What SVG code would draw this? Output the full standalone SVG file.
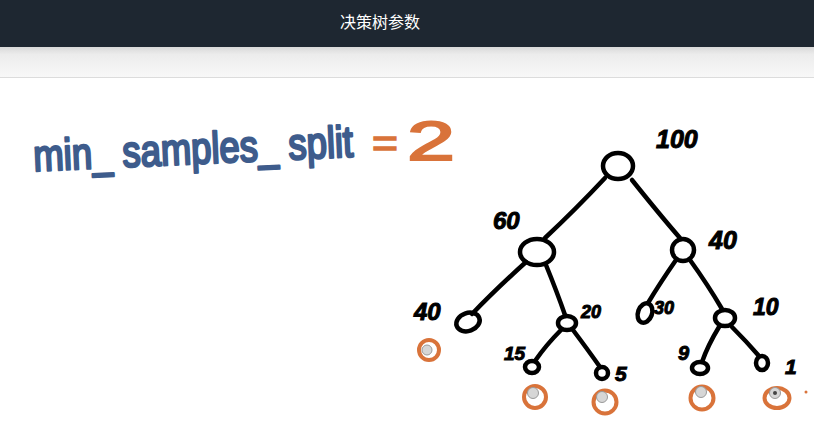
<svg xmlns="http://www.w3.org/2000/svg" width="814" height="435" viewBox="0 0 814 435">
<defs>
<linearGradient id="sub" x1="0" y1="0" x2="0" y2="1">
<stop offset="0" stop-color="#d9d9d9"/>
<stop offset="0.25" stop-color="#ececec"/>
<stop offset="1" stop-color="#f8f8f8"/>
</linearGradient>
<style>
.node{fill:none;stroke:#000;stroke-width:4.5}
.edge{fill:none;stroke:#000;stroke-width:4.5;stroke-linecap:round}
.num{font-family:"Liberation Sans",Arial,sans-serif;font-weight:bold;font-style:italic;fill:#000;stroke:#000;stroke-width:1}
.ring{fill:none;stroke:#d9733a;stroke-width:4}
.dot{fill:#d6d6d6;stroke:#9a9a9a;stroke-width:1}
</style>
</defs>
<rect x="0" y="0" width="814" height="435" fill="#ffffff"/>
<rect x="0" y="0" width="814" height="47" fill="#1e2731"/>
<text x="380" y="28" text-anchor="middle" font-family="Noto Sans CJK SC, sans-serif" font-size="16" fill="#ffffff">决策树参数</text>
<rect x="0" y="47" width="814" height="30" fill="url(#sub)"/>
<line x1="0" y1="77.5" x2="814" y2="77.5" stroke="#dcdcdc" stroke-width="1"/>

<g id="title-formula">
<text transform="translate(34,171) rotate(-2.6)" font-family="Liberation Sans, Arial, sans-serif" font-size="44" fill="#3e5c8c" stroke="#3e5c8c" stroke-width="2.5" stroke-linejoin="round" textLength="320" lengthAdjust="spacingAndGlyphs">min_ samples_ split</text>
<text x="372" y="157" font-family="Liberation Sans, Arial, sans-serif" font-size="40" fill="#d9733a" stroke="#d9733a" stroke-width="1.5" textLength="26" lengthAdjust="spacingAndGlyphs">=</text>
<text x="407" y="160" font-family="Liberation Sans, Arial, sans-serif" font-size="56" fill="#d9733a" stroke="#d9733a" stroke-width="2" textLength="48" lengthAdjust="spacingAndGlyphs">2</text>
</g>

<g id="connectors">
<path class="edge" d="M605 178 Q575 210 545 238"/>
<path class="edge" d="M632 180 Q660 215 680 238"/>
<path class="edge" d="M526 262 Q495 290 472 314"/>
<path class="edge" d="M546 265 Q557 292 565 315"/>
<path class="edge" d="M676 260 Q660 283 648 303"/>
<path class="edge" d="M690 260 Q708 285 722 309"/>
<path class="edge" d="M561 330 Q546 345 535 361"/>
<path class="edge" d="M573 330 Q588 350 600 367"/>
<path class="edge" d="M719 327 Q708 345 702 362"/>
<path class="edge" d="M732 327 Q747 342 759 356"/>
</g>

<g id="n100"><ellipse class="node" cx="618" cy="166" rx="15" ry="13"/><text class="num" x="656" y="148" font-size="25">100</text></g>
<g id="n60"><ellipse class="node" cx="537" cy="252" rx="17" ry="13"/><text class="num" x="493" y="229" font-size="24">60</text></g>
<g id="n40r"><ellipse class="node" cx="683" cy="250" rx="11" ry="11"/><text class="num" x="709" y="249" font-size="25">40</text></g>
<g id="n40l"><ellipse class="node" cx="468" cy="322" rx="12" ry="9" transform="rotate(-20 468 322)"/><text class="num" x="414" y="320" font-size="24">40</text></g>
<g id="n20"><ellipse class="node" cx="567" cy="323" rx="9" ry="7"/><text class="num" x="581" y="318" font-size="18">20</text></g>
<g id="n30"><ellipse class="node" cx="645" cy="313" rx="7" ry="10" transform="rotate(20 645 313)"/><text class="num" x="654" y="314" font-size="18">30</text></g>
<g id="n10"><ellipse class="node" cx="725" cy="318" rx="10" ry="8"/><text class="num" x="753" y="315" font-size="23">10</text></g>
<g id="n15"><ellipse class="node" cx="532" cy="367" rx="7" ry="6"/><text class="num" x="504" y="360" font-size="19">15</text></g>
<g id="n5"><ellipse class="node" cx="602" cy="373" rx="6" ry="6"/><text class="num" x="615" y="381" font-size="21">5</text></g>
<g id="n9"><ellipse class="node" cx="700" cy="368" rx="8" ry="6"/><text class="num" x="678" y="360" font-size="20">9</text></g>
<g id="n1"><ellipse class="node" cx="762" cy="363" rx="6" ry="7"/><text class="num" x="785" y="374" font-size="21">1</text></g>

<g id="marks">
<circle class="ring" cx="429" cy="350" r="10"/><circle class="dot" cx="427" cy="350" r="5"/>
<circle class="ring" cx="535" cy="397" r="11"/><circle class="dot" cx="533" cy="393" r="5.5"/>
<circle class="ring" cx="605" cy="402" r="11.5"/><circle class="dot" cx="602" cy="397" r="5.5"/>
<circle class="ring" cx="702" cy="398" r="11.5"/><circle class="dot" cx="701" cy="392" r="5.5"/>
<ellipse class="ring" cx="777" cy="398" rx="12.5" ry="10"/><circle class="dot" cx="775" cy="393" r="5.5"/><circle cx="775" cy="393" r="2" fill="#444"/>
<circle cx="806" cy="392" r="1.5" fill="#d9733a"/>
</g>
</svg>
